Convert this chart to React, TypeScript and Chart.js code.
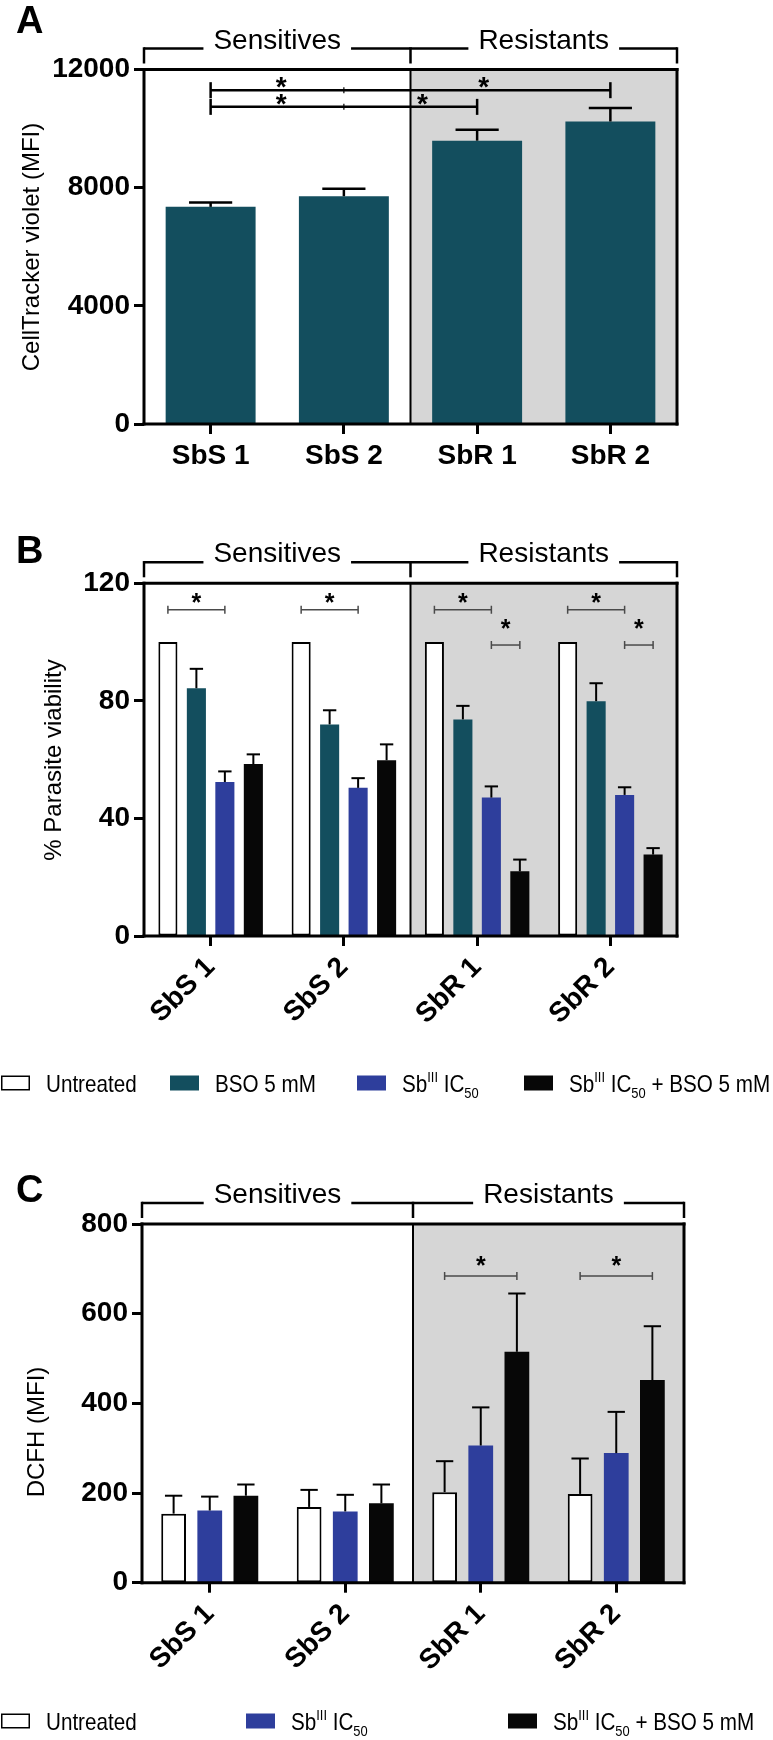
import React, { useEffect, useRef } from 'react';
import { Chart, registerables } from 'chart.js';

Chart.register(...registerables);

const FONT = "'Liberation Sans', Arial, Helvetica, sans-serif";
Chart.defaults.font.family = FONT;

const W = 773;

// ---------------- data ----------------
const CATEGORIES = ['SbS 1', 'SbS 2', 'SbR 1', 'SbR 2'];
const GROUPS = ['Sensitives', 'Resistants'];

// Panel A
const A_MEAN = [7350, 7710, 9590, 10240];
const A_ERR = [150, 250, 370, 460];
const A_SIG_LINES = [
  { from: 0, to: 3, mid: 1, y: 11300 },
  { from: 0, to: 2, mid: 1, y: 10735 },
];
const A_STARS = [
  { at: 0.53, y: 11645 },
  { at: 2.05, y: 11645 },
  { at: 0.53, y: 11069 },
  { at: 1.59, y: 11069 },
];

// Panel B
const B_UNTREATED = [100, 100, 100, 100];
const B_UNTREATED_ERR = [0, 0, 0, 0];
const B_BSO = [84.3, 72.0, 73.7, 79.9];
const B_BSO_ERR = [6.6, 4.8, 4.6, 6.1];
const B_SB = [52.4, 50.4, 47.1, 48.0];
const B_SB_ERR = [3.6, 3.3, 3.8, 2.6];
const B_COMBO = [58.5, 59.8, 22.0, 27.7];
const B_COMBO_ERR = [3.3, 5.4, 4.0, 2.2];
const B_SIG = [
  { group: 0, from: 0, to: 2, y: 111, star: 115.4 },
  { group: 1, from: 0, to: 2, y: 111, star: 115.4 },
  { group: 2, from: 0, to: 2, y: 111, star: 115.4 },
  { group: 3, from: 0, to: 2, y: 111, star: 115.4 },
  { group: 2, from: 2, to: 3, y: 99, star: 106.6 },
  { group: 3, from: 2, to: 3, y: 99, star: 106.6 },
];

// Panel C
const C_UNTREATED = [154, 169, 202, 198];
const C_UNTREATED_ERR = [40, 38, 69, 79];
const C_SB = [161, 159, 306, 289];
const C_SB_ERR = [31, 37, 85, 92];
const C_COMBO = [194, 177, 515, 452];
const C_COMBO_ERR = [25, 42, 130, 120];
const C_SIG = [
  { group: 2, from: 0, to: 2, y: 684, star: 720 },
  { group: 3, from: 0, to: 2, y: 684, star: 720 },
];

// Legend labels (rich text parts)
type Part = { t: string; sup?: boolean; sub?: boolean };
const LBL_UNTREATED: Part[] = [{ t: 'Untreated' }];
const LBL_BSO: Part[] = [{ t: 'BSO 5 mM' }];
const LBL_SB: Part[] = [{ t: 'Sb' }, { t: 'III', sup: true }, { t: ' IC' }, { t: '50', sub: true }];
const LBL_COMBO: Part[] = [...LBL_SB, { t: ' + BSO 5 mM' }];

// ---------------- styles ----------------
const TEAL = '#134E5E';
const BLUE = '#2E3E9C';
const BLACK = '#070707';
const GRAY = '#D6D6D6';

type Series = { label: Part[]; data: number[]; err: number[]; color: string; outline?: boolean };
type Spec = {
  letter: string; offset: number; height: number;
  left: number; right: number; top: number; bottom: number;
  yMax: number; yStep: number; yTitle: string; yTitleX: number; yTitleY: number;
  series: Series[]; barPct: number; catPct: number; rotate: number;
  capFrac: number; errWidth: number; starSize: number;
  sigLines: { from: number; to: number; mid: number; y: number }[];
  stars: { at: number; y: number }[];
  groupSig: { group: number; from: number; to: number; y: number; star: number }[];
  legend: { y: number; xs: number[] } | null;
  letterY: number;
};

const PANEL_A: Spec = {
  letter: 'A', offset: 0, height: 480, left: 144, right: 677, top: 69.5, bottom: 424,
  yMax: 12000, yStep: 4000, yTitle: 'CellTracker violet (MFI)', yTitleX: 32, yTitleY: 247,
  series: [{ label: [], data: A_MEAN, err: A_ERR, color: TEAL }],
  barPct: 0.675, catPct: 1, rotate: 0, capFrac: 0.48, errWidth: 2.5, starSize: 28,
  sigLines: A_SIG_LINES, stars: A_STARS, groupSig: [], legend: null, letterY: 33,
};

const PANEL_B: Spec = {
  letter: 'B', offset: 480, height: 640, left: 144, right: 677, top: 103.3, bottom: 456,
  yMax: 120, yStep: 40, yTitle: '% Parasite viability', yTitleX: 54, yTitleY: 280,
  series: [
    { label: LBL_UNTREATED, data: B_UNTREATED, err: B_UNTREATED_ERR, color: '#000', outline: true },
    { label: LBL_BSO, data: B_BSO, err: B_BSO_ERR, color: TEAL },
    { label: LBL_SB, data: B_SB, err: B_SB_ERR, color: BLUE },
    { label: LBL_COMBO, data: B_COMBO, err: B_COMBO_ERR, color: BLACK },
  ],
  barPct: 0.67, catPct: 0.855, rotate: 45, capFrac: 0.7, errWidth: 2, starSize: 25,
  sigLines: [], stars: [], groupSig: B_SIG, legend: { y: 603, xs: [1, 170, 357, 524] }, letterY: 83,
};

const PANEL_C: Spec = {
  letter: 'C', offset: 1120, height: 620, left: 142, right: 684, top: 104, bottom: 462.7,
  yMax: 800, yStep: 200, yTitle: 'DCFH (MFI)', yTitleX: 37, yTitleY: 312,
  series: [
    { label: LBL_UNTREATED, data: C_UNTREATED, err: C_UNTREATED_ERR, color: '#000', outline: true },
    { label: LBL_SB, data: C_SB, err: C_SB_ERR, color: BLUE },
    { label: LBL_COMBO, data: C_COMBO, err: C_COMBO_ERR, color: BLACK },
  ],
  barPct: 0.685, catPct: 0.8, rotate: 45, capFrac: 0.7, errWidth: 2, starSize: 25,
  sigLines: [], stars: [], groupSig: C_SIG, legend: { y: 601, xs: [1, 246, 508] }, letterY: 82,
};

function seg(ctx: CanvasRenderingContext2D, x0: number, y0: number, x1: number, y1: number) {
  ctx.beginPath();
  ctx.moveTo(x0, y0);
  ctx.lineTo(x1, y1);
  ctx.stroke();
}

// rich text with superscript / subscript, drawn slightly condensed
function drawRich(ctx: CanvasRenderingContext2D, parts: Part[], x: number, baseline: number, size: number, sx: number) {
  ctx.save();
  ctx.translate(x, baseline);
  ctx.scale(sx, 1);
  let cx = 0;
  ctx.textAlign = 'left';
  ctx.textBaseline = 'alphabetic';
  for (const p of parts) {
    const fs = p.sup || p.sub ? Math.round(size * 0.62) : size;
    ctx.font = `${fs}px ${FONT}`;
    const dy = p.sup ? -size * 0.4 : p.sub ? size * 0.27 : 0;
    ctx.fillText(p.t, cx, dy);
    cx += ctx.measureText(p.t).width;
  }
  ctx.restore();
}

function drawStar(ctx: CanvasRenderingContext2D, x: number, cy: number, size: number) {
  ctx.font = `bold ${size}px ${FONT}`;
  ctx.textAlign = 'center';
  ctx.textBaseline = 'alphabetic';
  ctx.fillStyle = '#000';
  ctx.fillText('*', x, cy + size * 0.56);
}

function decor(spec: Spec) {
  return {
    id: 'decor' + spec.letter,
    beforeDraw(chart: any) {
      const { ctx, chartArea } = chart;
      const { left, right, top, bottom } = chartArea;
      const mid = (left + right) / 2;
      ctx.save();
      ctx.fillStyle = GRAY;
      ctx.fillRect(mid, top, right - mid, bottom - top);
      ctx.restore();
    },
    afterDatasetsDraw(chart: any) {
      const ctx: CanvasRenderingContext2D = chart.ctx;
      const { left, right, top, bottom } = chart.chartArea;
      const mid = (left + right) / 2;
      const ys = chart.scales.y;
      const xs = chart.scales.x;
      ctx.save();
      ctx.lineCap = 'butt';
      ctx.strokeStyle = '#000';
      ctx.fillStyle = '#000';

      // error bars (upper only)
      spec.series.forEach((s, d) => {
        const meta = chart.getDatasetMeta(d);
        meta.data.forEach((bar: any, i: number) => {
          const e = s.err[i];
          if (!e) return;
          const x = bar.x;
          const y0 = bar.y;
          const y1 = ys.getPixelForValue(s.data[i] + e);
          const cw = bar.width * spec.capFrac;
          ctx.lineWidth = spec.errWidth;
          ctx.strokeStyle = '#000';
          seg(ctx, x, y0, x, y1);
          seg(ctx, x - cw / 2, y1, x + cw / 2, y1);
        });
      });

      // frame
      ctx.strokeStyle = '#000';
      ctx.lineWidth = 3;
      seg(ctx, left, top - 1.5, left, bottom + 1.5);
      seg(ctx, left - 1.5, bottom, right + 1.5, bottom);
      seg(ctx, left - 1.5, top, right + 1.5, top);
      seg(ctx, right, top - 1.5, right, bottom + 1.5);
      ctx.lineWidth = 2;
      seg(ctx, mid, top, mid, bottom);

      // group brackets
      const by = top - 21;
      ctx.lineWidth = 2.5;
      ctx.font = `28px ${FONT}`;
      ctx.textAlign = 'center';
      ctx.textBaseline = 'alphabetic';
      const halves = [[left, mid], [mid, right]];
      halves.forEach(([x0, x1], h) => {
        const cx = (x0 + x1) / 2;
        const w = ctx.measureText(GROUPS[h]).width;
        seg(ctx, x0, by, cx - w / 2 - 10, by);
        seg(ctx, cx + w / 2 + 10, by, x1, by);
        ctx.fillText(GROUPS[h], cx, by);
      });
      [left, mid, right].forEach((x) => seg(ctx, x, by - 1.25, x, by + 15));

      // significance lines across categories (panel A)
      for (const l of spec.sigLines) {
        const xa = xs.getPixelForValue(l.from);
        const xb = xs.getPixelForValue(l.to);
        const xm = xs.getPixelForValue(l.mid);
        const y = ys.getPixelForValue(l.y);
        ctx.lineWidth = 2.5;
        ctx.strokeStyle = '#000';
        seg(ctx, xa, y, xb, y);
        seg(ctx, xa, y - 8, xa, y + 8);
        seg(ctx, xb, y - 8, xb, y + 8);
        ctx.lineWidth = 1.2;
        seg(ctx, xm, y - 3, xm, y + 3);
      }
      const step = xs.getPixelForValue(1) - xs.getPixelForValue(0);
      for (const s of spec.stars) {
        drawStar(ctx, xs.getPixelForValue(0) + s.at * step, ys.getPixelForValue(s.y), spec.starSize);
      }

      // significance within groups (panels B, C)
      for (const g of spec.groupSig) {
        const xa = chart.getDatasetMeta(g.from).data[g.group].x;
        const xb = chart.getDatasetMeta(g.to).data[g.group].x;
        const y = ys.getPixelForValue(g.y);
        ctx.strokeStyle = '#4a4a4a';
        ctx.lineWidth = 1.5;
        seg(ctx, xa, y, xb, y);
        seg(ctx, xa, y - 4, xa, y + 4);
        seg(ctx, xb, y - 4, xb, y + 4);
        drawStar(ctx, (xa + xb) / 2, ys.getPixelForValue(g.star), spec.starSize);
      }

      // panel letter
      ctx.fillStyle = '#000';
      ctx.font = `bold 38px ${FONT}`;
      ctx.textAlign = 'left';
      ctx.textBaseline = 'alphabetic';
      ctx.fillText(spec.letter, 16, spec.letterY);

      // y title
      ctx.save();
      ctx.translate(spec.yTitleX, spec.yTitleY);
      ctx.rotate(-Math.PI / 2);
      ctx.font = `24px ${FONT}`;
      ctx.textAlign = 'center';
      ctx.textBaseline = 'middle';
      ctx.fillText(spec.yTitle, 0, 0);
      ctx.restore();

      // legend
      if (spec.legend) {
        const ly = spec.legend.y;
        spec.series.forEach((s, i) => {
          const x = spec.legend!.xs[i];
          if (s.outline) {
            ctx.fillStyle = '#fff';
            ctx.fillRect(x, ly - 7.5, 29, 15);
            ctx.strokeStyle = '#000';
            ctx.lineWidth = 1.5;
            ctx.strokeRect(x + 0.75, ly - 6.75, 27.5, 13.5);
          } else {
            ctx.fillStyle = s.color;
            ctx.fillRect(x, ly - 7.5, 29, 15);
          }
          ctx.fillStyle = '#000';
          drawRich(ctx, s.label, x + 45, ly + 9, 24, 0.86);
        });
      }
      ctx.restore();
    },
  };
}

function buildConfig(spec: Spec): any {
  const H = spec.height;
  return {
    type: 'bar',
    data: {
      labels: CATEGORIES,
      datasets: spec.series.map((s, i) => ({
        label: 'series' + i,
        data: s.data,
        backgroundColor: s.outline ? '#ffffff' : s.color,
        borderColor: s.outline ? '#000000' : s.color,
        borderWidth: s.outline ? 2 : 0,
        borderSkipped: false,
        barPercentage: spec.barPct,
        categoryPercentage: spec.catPct,
      })),
    },
    options: {
      animation: false,
      responsive: false,
      maintainAspectRatio: false,
      devicePixelRatio: 1,
      layout: { padding: { left: 0, top: spec.top, right: W - spec.right, bottom: 0 } },
      plugins: { legend: { display: false }, tooltip: { enabled: false }, title: { display: false } },
      scales: {
        x: {
          type: 'category',
          offset: true,
          grid: {
            display: true, drawOnChartArea: false, drawTicks: true, tickLength: 10,
            tickWidth: 3, tickColor: '#000', offset: false,
          },
          border: { display: false },
          ticks: {
            color: '#000',
            font: { family: FONT, size: 28, weight: 'bold' },
            maxRotation: spec.rotate, minRotation: spec.rotate, autoSkip: false, padding: 5,
          },
          afterFit: (s: any) => { s.height = H - spec.bottom; },
        },
        y: {
          min: 0,
          max: spec.yMax,
          grid: {
            display: true, drawOnChartArea: false, drawTicks: true, tickLength: 10,
            tickWidth: 3, tickColor: '#000',
          },
          border: { display: false },
          ticks: {
            stepSize: spec.yStep,
            color: '#000',
            font: { family: FONT, size: 28, weight: 'bold' },
            padding: 4,
            callback: (v: any) => String(v),
          },
          afterFit: (s: any) => { s.width = spec.left; },
        },
      },
    },
    plugins: [decor(spec)],
  };
}

function Panel({ spec }: { spec: Spec }) {
  const ref = useRef<HTMLCanvasElement>(null);
  useEffect(() => {
    const chart = new Chart(ref.current as HTMLCanvasElement, buildConfig(spec));
    return () => chart.destroy();
  }, [spec]);
  return (
    <canvas
      ref={ref}
      width={W}
      height={spec.height}
      style={{ position: 'absolute', left: 0, top: spec.offset, width: W, height: spec.height, display: 'block' }}
    />
  );
}

export default function App() {
  return (
    <div style={{ position: 'absolute', left: 0, top: 0, width: W, height: 1740, background: '#fff', overflow: 'hidden' }}>
      <Panel spec={PANEL_A} />
      <Panel spec={PANEL_B} />
      <Panel spec={PANEL_C} />
    </div>
  );
}
